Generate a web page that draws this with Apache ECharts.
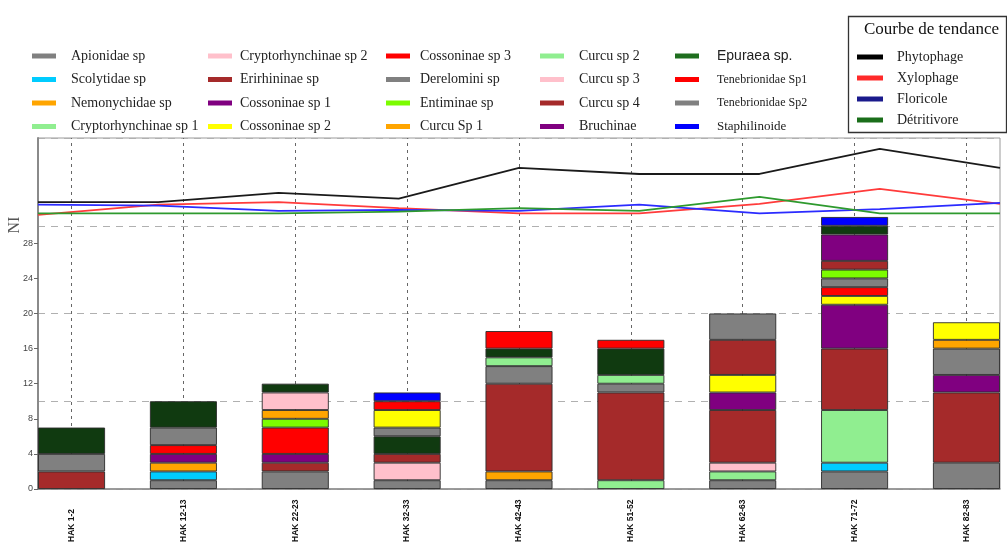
<!DOCTYPE html>
<html><head><meta charset="utf-8">
<script src="https://cdn.jsdelivr.net/npm/echarts@6/dist/echarts.min.js"></script>
<style>html,body{margin:0;padding:0;background:#fff}#c{width:1007px;height:542px}</style>
</head><body><div id="c"></div>
<script>
// ---------- data ----------
const categories = ['HAK 1-2','HAK 12-13','HAK 22-23','HAK 32-33','HAK 42-43','HAK 51-52','HAK 62-63','HAK 71-72','HAK 82-83'];
const yTickLabels = [0,4,8,12,16,20,24,28];

const apionidae        = [0,1,2,1,1,0,1,2,3];
const scolytidae       = [0,1,0,0,0,0,0,1,0];
const nemonychidae     = [0,1,0,0,1,0,0,0,0];
const cryptoSp1        = [0,0,0,0,0,1,1,6,0];
const cryptoSp2        = [0,0,0,2,0,0,1,0,0];
const erirhininae      = [2,0,1,1,10,10,6,7,8];
const cossoninaeSp1    = [0,1,1,0,0,0,2,5,2];
const cossoninaeSp2    = [0,0,0,0,0,0,2,1,0];
const cossoninaeSp3    = [0,1,3,0,0,0,0,1,0];
const derelomini       = [2,2,0,0,2,1,0,1,3];
const entiminae        = [0,0,1,0,0,0,0,1,0];
const curcuSp1         = [0,0,1,0,0,0,0,0,1];
const curcuSp2         = [0,0,0,0,1,1,0,0,0];
const curcuSp3         = [0,0,2,0,0,0,0,0,0];
const curcuSp4         = [0,0,0,0,0,0,4,1,0];
const bruchinae        = [0,0,0,0,0,0,0,3,0];
const epuraea          = [3,3,1,2,1,3,0,1,0];
const tenebrionidaeSp1 = [0,0,0,0,2,1,0,0,0];
const tenebrionidaeSp2 = [0,0,0,1,0,0,3,0,0];
const cossoninaeSp2Up  = [0,0,0,2,0,0,0,0,2];   // same species, stacked higher in some bars
const tenebrionidaeSp1Up = [0,0,0,1,0,0,0,0,0];
const staphilinoide    = [0,0,0,1,0,0,0,1,0];

// trend curves (evenly spread over the plot width)
const phytophage  = [32.7, 32.7, 33.75, 33.1, 36.6, 35.9, 35.9, 38.75, 36.6];
const xylophage   = [31.25, 32.4, 32.7, 32.0, 31.4, 31.4, 32.5, 34.2, 32.5];
const floricole   = [32.4, 32.3, 31.7, 31.8, 31.7, 32.4, 31.4, 31.9, 32.6];
const detritivore = [31.4, 31.4, 31.4, 31.6, 32.0, 31.7, 33.3, 31.4, 31.4];

// ---------- styling ----------
const SERIF = "'Liberation Serif','DejaVu Serif',serif";
const SANS = "'Liberation Sans',Arial,sans-serif";
const C = {
  gray:'#808080', cyan:'#00CCFF', orange:'#FFA500', lgreen:'#90EE90', pink:'#FFC0CB',
  brown:'#A52A2A', purple:'#800080', yellow:'#FFFF00', red:'#FF0000', lawn:'#7CFC00',
  dgreen:'#103a10', blue:'#0000FF'
};
const layers = [
  ['Apionidae sp', apionidae, C.gray],
  ['Scolytidae sp', scolytidae, C.cyan],
  ['Nemonychidae sp', nemonychidae, C.orange],
  ['Cryptorhynchinae sp 1', cryptoSp1, C.lgreen],
  ['Cryptorhynchinae sp 2', cryptoSp2, C.pink],
  ['Erirhininae sp', erirhininae, C.brown],
  ['Cossoninae sp 1', cossoninaeSp1, C.purple],
  ['Cossoninae sp 2', cossoninaeSp2, C.yellow],
  ['Cossoninae sp 3', cossoninaeSp3, C.red],
  ['Derelomini sp', derelomini, C.gray],
  ['Entiminae sp', entiminae, C.lawn],
  ['Curcu Sp 1', curcuSp1, C.orange],
  ['Curcu sp 2', curcuSp2, C.lgreen],
  ['Curcu sp 3', curcuSp3, C.pink],
  ['Curcu sp 4', curcuSp4, C.brown],
  ['Bruchinae', bruchinae, C.purple],
  ['Epuraea sp.', epuraea, C.dgreen],
  ['Tenebrionidae Sp1', tenebrionidaeSp1, C.red],
  ['Tenebrionidae Sp2', tenebrionidaeSp2, C.gray],
  ['Cossoninae sp 2', cossoninaeSp2Up, C.yellow],
  ['Tenebrionidae Sp1', tenebrionidaeSp1Up, C.red],
  ['Staphilinoide', staphilinoide, C.blue]
];

// value first so that the stack is built on the y values (x is the bar position)
const barSeries = layers.map(([name, vals, color]) => ({
  type:'bar', name, stack:'total', xAxisIndex:0, yAxisIndex:0, barWidth:67, z:3,
  encode:{x:1, y:0},
  itemStyle:{color, borderColor:'#2b2b2b', borderWidth:0.9},
  data: vals.map((v,i) => [v ? v : null, i])
}));

const trends = [
  ['Phytophage', phytophage, '#1a1a1a', '#000000'],
  ['Xylophage', xylophage, '#ff3b3b', '#ff2a2a'],
  ['Floricole', floricole, '#2b2bff', '#1a1a8c'],
  ['Détritivore', detritivore, '#2e9a2e', '#1a6e1a']
];
const lineSeries = trends.map(([name, vals, color]) => ({
  type:'line', name, xAxisIndex:1, yAxisIndex:0, symbol:'none', z:5,
  lineStyle:{color, width:1.8}, itemStyle:{color},
  data: vals
}));

const guideSeries = {
  type:'scatter', name:'guides', xAxisIndex:0, yAxisIndex:0, data:[], z:0, silent:true,
  markLine:{ silent:true, z:0, symbol:['none','none'], label:{show:false},
    lineStyle:{color:'#666', type:[3,4], width:1},
    data: categories.map((c,i)=>({xAxis:i})) }
};

function legendItem(name, color, extra){
  return Object.assign({name, itemStyle:{color, borderWidth:0}}, extra||{});
}
function column(left, pad, items){
  return {orient:'vertical', left, top:48, padding:0, itemGap:7.5, itemWidth:24, itemHeight:5,
    icon:'rect', selectedMode:false,
    textStyle:{fontFamily:SERIF, fontSize:14, color:'#222', lineHeight:16, padding:[0,0,0,pad]},
    data:items};
}
const legends = [
  column(32, 10, [legendItem('Apionidae sp',C.gray), legendItem('Scolytidae sp',C.cyan), legendItem('Nemonychidae sp',C.orange), legendItem('Cryptorhynchinae sp 1',C.lgreen)]),
  column(208, 3, [legendItem('Cryptorhynchinae sp 2',C.pink), legendItem('Erirhininae sp',C.brown), legendItem('Cossoninae sp 1',C.purple), legendItem('Cossoninae sp 2',C.yellow)]),
  column(386, 5, [legendItem('Cossoninae sp 3',C.red), legendItem('Derelomini sp',C.gray), legendItem('Entiminae sp',C.lawn), legendItem('Curcu Sp 1',C.orange)]),
  column(540, 10, [legendItem('Curcu sp 2',C.lgreen), legendItem('Curcu sp 3',C.pink), legendItem('Curcu sp 4',C.brown), legendItem('Bruchinae',C.purple)]),
  column(675, 13, [
    legendItem('Epuraea sp.','#1f6e1f',{textStyle:{fontFamily:SANS, fontSize:14, lineHeight:16}}),
    legendItem('Tenebrionidae Sp1',C.red,{textStyle:{fontSize:12, lineHeight:16}}),
    legendItem('Tenebrionidae Sp2',C.gray,{textStyle:{fontSize:12, lineHeight:16}}),
    legendItem('Staphilinoide',C.blue,{textStyle:{fontSize:13, lineHeight:16}})]),
  {orient:'vertical', left:857, top:49, padding:0, itemGap:5, itemWidth:26, itemHeight:5, icon:'rect', selectedMode:false,
   textStyle:{fontFamily:SERIF, fontSize:14, color:'#222', lineHeight:16, padding:[0,0,0,9]},
   data: trends.map(([name,,,lc]) => legendItem(name, lc))}
];

const chart = echarts.init(document.getElementById('c'), null, {renderer:'canvas'});
chart.setOption({
  animation:false,
  backgroundColor:'#fff',
  grid:{left:38, right:7, top:138, bottom:53, show:true, borderColor:'#9a9a9a', borderWidth:1, containLabel:false, outerBoundsMode:'none'},
  legend: legends,
  xAxis:[
    {type:'value', min:-0.3, max:8.3, position:'bottom',
     axisLine:{show:true, onZero:false, lineStyle:{color:'#8a8a8a', width:1.5}},
     axisTick:{show:false}, splitLine:{show:false},
     axisLabel:{customValues:categories.map((c,i)=>i), formatter:v=>categories[Math.round(v)] || '',
       rotate:90, align:'left', verticalAlign:'middle', margin:53, fontFamily:SANS, fontSize:8.5, fontWeight:'bold', color:'#111'}},
    {type:'category', data:categories, boundaryGap:false, show:false}
  ],
  yAxis:[
    {type:'value', min:0, max:40, interval:4, position:'left',
     axisLine:{show:true, onZero:false, lineStyle:{color:'#8a8a8a', width:2}},
     axisTick:{show:true, customValues:yTickLabels, length:4, inside:false, lineStyle:{color:'#666'}},
     axisLabel:{customValues:yTickLabels, fontFamily:SANS, fontSize:9, color:'#444', margin:5},
     splitLine:{show:false}},
    {type:'value', min:0, max:40, interval:10, show:true, position:'left',
     axisLine:{show:false, onZero:false}, axisTick:{show:false}, axisLabel:{show:false},
     splitLine:{show:true, lineStyle:{color:'#b0b0b0', type:[7,6], width:1.2}}}
  ],
  graphic:[
    {type:'rect', left:846, top:14, shape:{width:158, height:116}, style:{fill:'none', stroke:'#333', lineWidth:1.3}, z:10},
    {type:'text', left:864, top:21, style:{text:'Courbe de tendance', fontFamily:SERIF, fontSize:17, fill:'#111'}, z:10},
    {type:'text', x:15, y:225, rotation:Math.PI/2, style:{text:'NI', fontFamily:SERIF, fontSize:16, fill:'#555', textAlign:'center', textVerticalAlign:'middle'}, z:10}
  ],
  series:[guideSeries].concat(barSeries, lineSeries)
});
</script></body></html>
